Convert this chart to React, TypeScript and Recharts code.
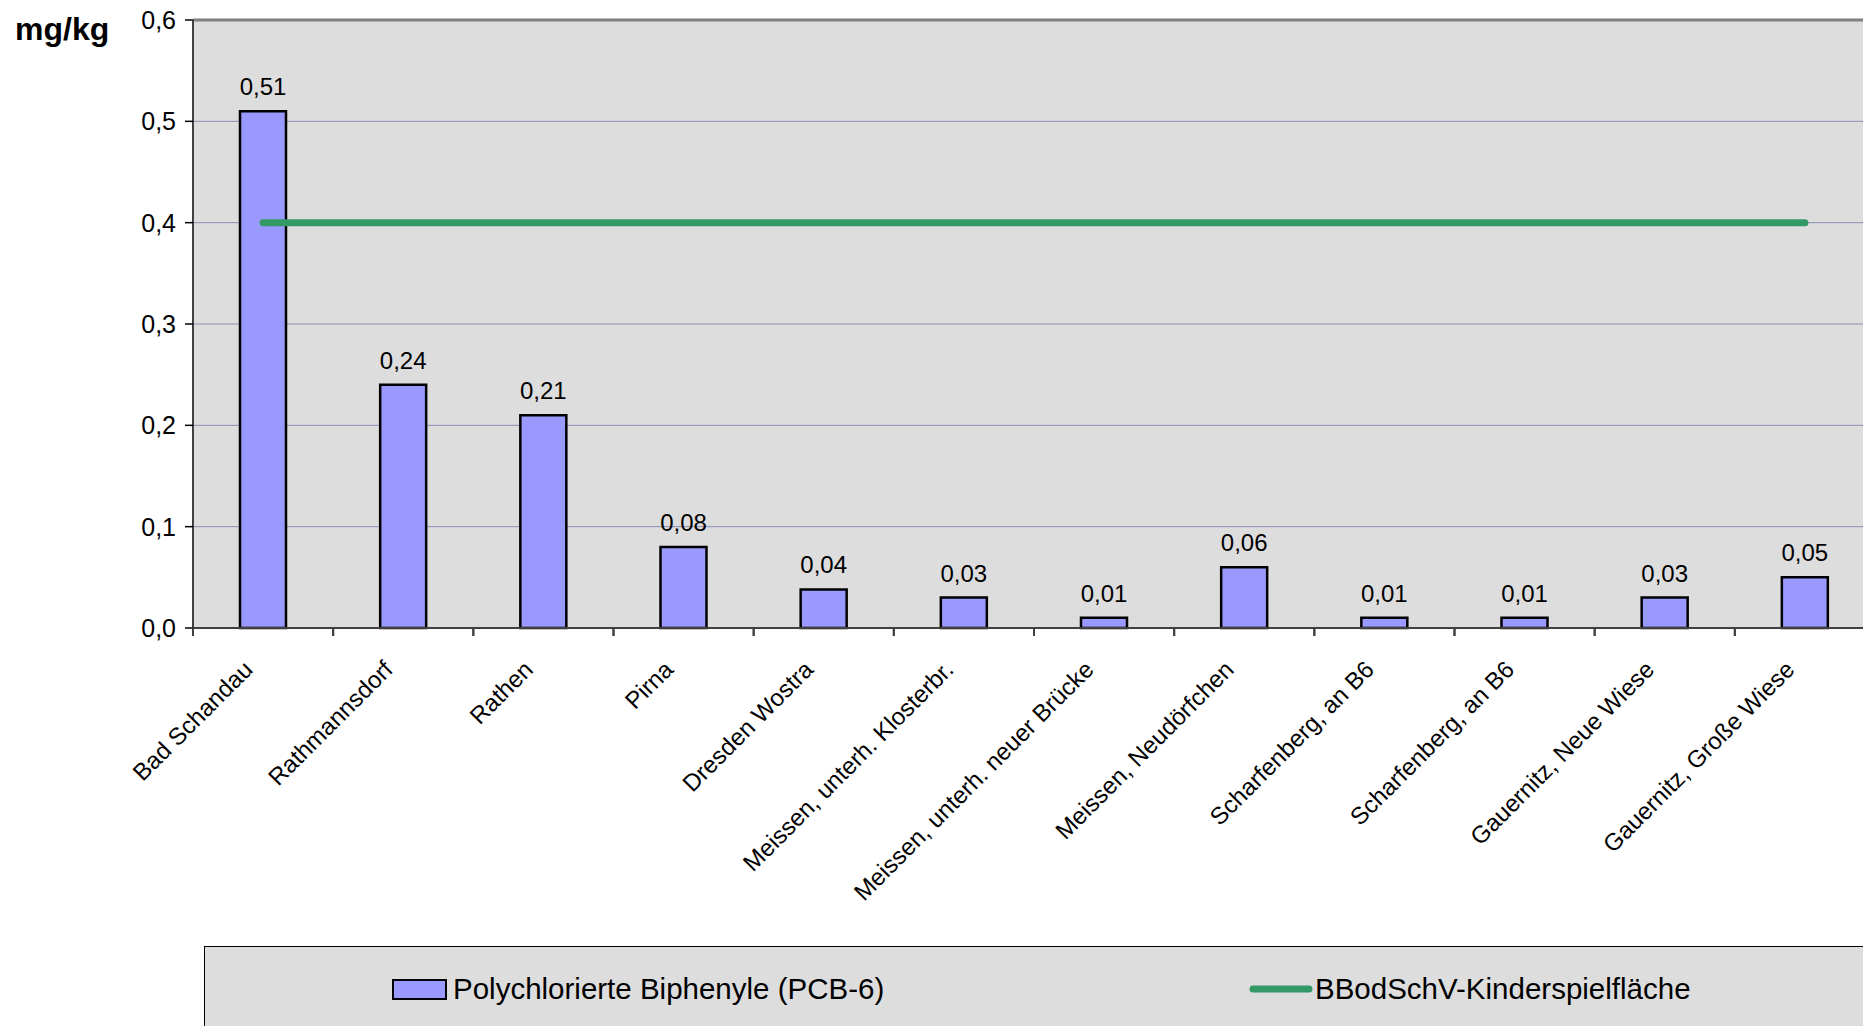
import {
  ComposedChart,
  Bar,
  Line,
  XAxis,
  YAxis,
  CartesianGrid,
  ReferenceLine,
  LabelList,
  Legend,
} from "recharts";

const sites = [
  "Bad Schandau",
  "Rathmannsdorf",
  "Rathen",
  "Pirna",
  "Dresden Wostra",
  "Meissen, unterh. Klosterbr.",
  "Meissen, unterh. neuer Brücke",
  "Meissen, Neudörfchen",
  "Scharfenberg, an B6",
  "Scharfenberg, an B6",
  "Gauernitz, Neue Wiese",
  "Gauernitz, Große Wiese",
];

const pcbValues = [0.51, 0.24, 0.21, 0.08, 0.038, 0.03, 0.01, 0.06, 0.01, 0.01, 0.03, 0.05];
const limitValues = [0.4, 0.4, 0.4, 0.4, 0.4, 0.4, 0.4, 0.4, 0.4, 0.4, 0.4, 0.4];
const yTicks = [0, 0.1, 0.2, 0.3, 0.4, 0.5, 0.6];

const pcbName = "Polychlorierte Biphenyle (PCB-6)";
const limitName = "BBodSchV-Kinderspielfläche";

const data = sites.map((site, i) => ({
  idx: i,
  site,
  pcb: pcbValues[i],
  limit: limitValues[i],
}));

const FONT = '"Liberation Sans", Arial, sans-serif';
const CHART_W = 1900;
const CHART_H = 1026;
const MARGIN = { top: 20, right: 25, bottom: 298, left: 133 };
const Y_AXIS_W = 60;
const PLOT_W = CHART_W - MARGIN.left - MARGIN.right - Y_AXIS_W;
const BAND = PLOT_W / sites.length;

const comma = (v: number, d: number) => v.toFixed(d).replace(".", ",");

function SiteTick(props: any) {
  const { x, y, payload } = props;
  const cx = Number(x);
  const cy = Number(y);
  const tx = cx - 9;
  const ty = cy + 43;
  return (
    <g>
      <line x1={cx - BAND / 2} y1={cy} x2={cx - BAND / 2} y2={cy + 8} stroke="#404040" strokeWidth={2} />
      <line x1={cx + BAND / 2} y1={cy} x2={cx + BAND / 2} y2={cy + 8} stroke="#404040" strokeWidth={2} />
      <text
        x={tx}
        y={ty}
        transform={`rotate(-45 ${tx} ${ty})`}
        textAnchor="end"
        fontSize={24}
        fontFamily={FONT}
        fill="#000"
      >
        {sites[payload.value]}
      </text>
    </g>
  );
}

function ValueLabel(props: any) {
  const { x, y, width, value } = props;
  return (
    <text
      x={Number(x) + Number(width) / 2}
      y={Number(y) - 16}
      textAnchor="middle"
      fontSize={24}
      fontFamily={FONT}
      fill="#000"
    >
      {comma(Number(value), 2)}
    </text>
  );
}

function LegendBox() {
  return (
    <div
      style={{
        position: "relative",
        width: 1700,
        height: 120,
        background: "#dddddd",
        border: "1px solid #000",
        fontFamily: FONT,
        fontSize: 29.5,
        color: "#000",
      }}
    >
      <svg style={{ position: "absolute", left: 187, top: 32 }} width={56} height={22}>
        <rect x={1} y={1} width={53} height={19} fill="#9999ff" stroke="#000" strokeWidth={2} />
      </svg>
      <span style={{ position: "absolute", left: 248, top: 25, whiteSpace: "nowrap" }}>{pcbName}</span>
      <svg style={{ position: "absolute", left: 1044, top: 32 }} width={64} height={20}>
        <line x1={4} y1={10} x2={60} y2={10} stroke="#339966" strokeWidth={7} strokeLinecap="round" />
      </svg>
      <span style={{ position: "absolute", left: 1110, top: 25, whiteSpace: "nowrap" }}>{limitName}</span>
    </div>
  );
}

export default function App() {
  return (
    <div
      style={{
        position: "fixed",
        left: 0,
        top: 0,
        width: 1863,
        height: 1026,
        overflow: "hidden",
        background: "#fff",
      }}
    >
      <ComposedChart width={CHART_W} height={CHART_H} data={data} margin={MARGIN}>
        <CartesianGrid
          vertical={false}
          fill="#dddddd"
          stroke="#8c8cb8"
          strokeWidth={1}
        />
        <XAxis
          dataKey="idx"
          type="category"
          height={100}
          tickSize={0}
          tickMargin={0}
          tickLine={false}
          interval={0}
          axisLine={{ stroke: "#404040", strokeWidth: 2 }}
          tick={<SiteTick />}
        />
        <YAxis
          width={Y_AXIS_W}
          domain={[0, 0.6]}
          ticks={yTicks}
          interval={0}
          tickSize={8}
          tickMargin={9}
          tickFormatter={(v: number) => comma(v, 1)}
          tick={{ fontSize: 25, fontFamily: FONT, fill: "#000" }}
          tickLine={{ stroke: "#000", strokeWidth: 1.5 }}
          axisLine={{ stroke: "#404040", strokeWidth: 2 }}
          label={{
            content: () => (
              <text x={15} y={40} fontSize={32} fontWeight="bold" fontFamily={FONT} fill="#000">
                mg/kg
              </text>
            ),
          }}
        />
        <ReferenceLine y={0.6} stroke="#808080" strokeWidth={3} />
        <Legend
          layout="horizontal"
          verticalAlign="middle"
          align="center"
          wrapperStyle={{ position: "absolute", left: 204, top: 946, width: 1700 }}
          content={() => <LegendBox />}
        />
        <Bar
          dataKey="pcb"
          name={pcbName}
          barSize={46}
          fill="#9999ff"
          stroke="#000"
          strokeWidth={2.5}
          isAnimationActive={false}
        >
          <LabelList dataKey="pcb" content={<ValueLabel />} />
        </Bar>
        <Line
          dataKey="limit"
          name={limitName}
          type="linear"
          stroke="#339966"
          strokeWidth={7}
          strokeLinecap="round"
          dot={false}
          activeDot={false}
          isAnimationActive={false}
        />
      </ComposedChart>
    </div>
  );
}
